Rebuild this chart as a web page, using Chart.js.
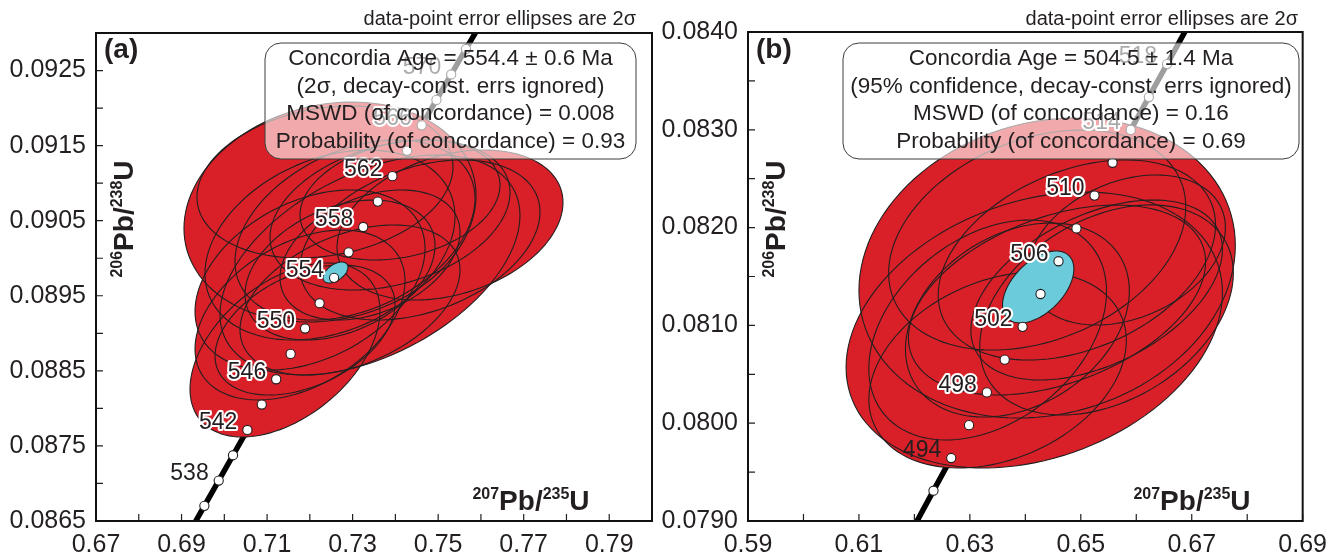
<!DOCTYPE html>
<html>
<head>
<meta charset="utf-8">
<script src="https://cdn.jsdelivr.net/npm/chart.js@4.4.1/dist/chart.umd.min.js"></script>
<style>
  html, body { margin: 0; padding: 0; background: #fff; }
  #wrap { position: relative; width: 1336px; height: 558px; overflow: hidden; }
  canvas { position: absolute; top: 0; }
  #chartA { left: 0; }
  #chartB { left: 640px; }
</style>
</head>
<body>
<div id="wrap">
  <canvas id="chartA" width="668" height="558"></canvas>
  <canvas id="chartB" width="696" height="558"></canvas>
</div>
<script>
// ---------- panel (a) data ----------
const concAgeA = [534, 536, 538, 540, 542, 544, 546, 548, 550, 552, 554, 556, 558, 560, 562, 564, 566, 568, 570, 572, 574];
const concXA = [0.69200, 0.69534, 0.69869, 0.70204, 0.70540, 0.70876, 0.71213, 0.71551, 0.71889, 0.72228, 0.72567,
                0.72907, 0.73248, 0.73589, 0.73931, 0.74273, 0.74616, 0.74960, 0.75305, 0.75650, 0.75998];
const concYA = [0.086365, 0.086702, 0.087039, 0.087376, 0.087713, 0.088051, 0.088388, 0.088726, 0.089064, 0.089401, 0.089739,
                0.090078, 0.090416, 0.090754, 0.091093, 0.091431, 0.091770, 0.092109, 0.092448, 0.092787, 0.093126];
const labelAgesA = [538, 542, 546, 550, 554, 558, 562, 566, 570];

// error ellipses: centre, 2-sigma half extents, correlation
const ellXA   = [0.72471, 0.75277, 0.73406, 0.71419, 0.71770, 0.72004, 0.72471, 0.73056,
                 0.73874, 0.74575, 0.72939, 0.72705, 0.73406, 0.74108, 0.72354, 0.71887];
const ellYA   = [0.090616, 0.090443, 0.089910, 0.088778, 0.089244, 0.089710, 0.090176, 0.090376,
                 0.090576, 0.090243, 0.089444, 0.089843, 0.090043, 0.090776, 0.091016, 0.089044];
const ellAXA  = [0.03414, 0.02642, 0.03507, 0.02221, 0.02455, 0.02689, 0.02923, 0.02806,
                 0.02806, 0.02806, 0.02572, 0.02221, 0.02104, 0.02338, 0.02993, 0.02104];
const ellBYA  = [0.001465, 0.000999, 0.001465, 0.001159, 0.001132, 0.001199, 0.001265, 0.001199,
                 0.000999, 0.001066, 0.000999, 0.000932, 0.000866, 0.000799, 0.001012, 0.000866];
const ellRhoA = [0.15, 0.30, 0.45, 0.45, 0.40, 0.35, 0.30, 0.35, 0.30, 0.35, 0.40, 0.35, 0.35, 0.25, 0.20, 0.40];
const ageEllA = [0.72600, 0.089810, 0.00292, 0.000140, 0.50];

const xLabelsA = ['0.67', '0.69', '0.71', '0.73', '0.75', '0.77', '0.79'];
const xMinorA = [0.68, 0.70, 0.72, 0.74, 0.76, 0.78];
const yLabelsA = ['0.0865', '0.0875', '0.0885', '0.0895', '0.0905', '0.0915', '0.0925'];
const yMinorA = [0.0870, 0.0880, 0.0890, 0.0900, 0.0910, 0.0920];
const boxLinesA = ['Concordia Age = 554.4 ± 0.6 Ma', '(2σ, decay-const. errs ignored)',
                   'MSWD (of concordance) = 0.008', 'Probability (of concordance) = 0.93'];

// ---------- panel (b) data ----------
const concAgeB = [490, 492, 494, 496, 498, 500, 502, 504, 506, 508, 510, 512, 514, 516, 518, 520];
const concXB = [0.62024, 0.62344, 0.62664, 0.62985, 0.63306, 0.63628, 0.63951, 0.64274,
                0.64598, 0.64922, 0.65247, 0.65573, 0.65900, 0.66227, 0.66555, 0.66883];
const concYB = [0.078975, 0.079310, 0.079644, 0.079980, 0.080315, 0.080650, 0.080985, 0.081321,
                0.081656, 0.081992, 0.082327, 0.082663, 0.082999, 0.083335, 0.083672, 0.084008];
const labelAgesB = [494, 498, 502, 506, 510, 514, 518];

const ellXB   = [0.64393, 0.64161, 0.65464, 0.63500, 0.65286, 0.63857, 0.63321, 0.64214, 0.64929, 0.64571, 0.65821];
const ellYB   = [0.081587, 0.080953, 0.081158, 0.080544, 0.081362, 0.081055, 0.080953, 0.081873, 0.081669, 0.081260, 0.081771];
const ellAXB  = [0.03393, 0.03393, 0.02286, 0.02321, 0.02268, 0.02018, 0.02143, 0.02679, 0.02500, 0.02679, 0.01786];
const ellBYB  = [0.001534, 0.001411, 0.001074, 0.001002, 0.000920, 0.000992, 0.001125, 0.001125, 0.001023, 0.000971, 0.000767];
const ellRhoB = [0.15, 0.27, 0.35, 0.30, 0.45, 0.30, 0.35, 0.30, 0.35, 0.40, 0.30];
const ageEllB = [0.64232, 0.081393, 0.00643, 0.000368, 0.50];

const xLabelsB = ['0.59', '0.61', '0.63', '0.65', '0.67', '0.69'];
const xMinorB = [0.60, 0.62, 0.64, 0.66, 0.68];
const yLabelsB = ['0.0790', '0.0800', '0.0810', '0.0820', '0.0830', '0.0840'];
const yMinorB = [0.0795, 0.0805, 0.0815, 0.0825, 0.0835];
const boxLinesB = ['Concordia Age = 504.5 ± 1.4 Ma', '(95% confidence, decay-const. errs ignored)',
                   'MSWD (of concordance) = 0.16', 'Probability (of concordance) = 0.69'];

const NOTE = 'data-point error ellipses are 2σ';

// ---------- drawing ----------
const FONT = '"Liberation Sans", Arial, sans-serif';
const RED = '#d91f27';
const CYAN = '#6bcbdb';
const INK = '#231f20';
Chart.defaults.font.family = FONT;
Chart.defaults.color = INK;

function ellipsePath(ctx, xs, ys, e) {
  const k = Math.sqrt(1 - e[4] * e[4]);
  ctx.beginPath();
  for (let i = 0; i <= 120; i++) {
    const t = i / 120 * Math.PI * 2;
    const px = xs.getPixelForValue(e[0] + e[2] * Math.cos(t));
    const py = ys.getPixelForValue(e[1] + e[3] * (e[4] * Math.cos(t) + k * Math.sin(t)));
    if (i === 0) ctx.moveTo(px, py); else ctx.lineTo(px, py);
  }
  ctx.closePath();
}

// text with superscript parts, centred on x
function richText(ctx, parts, x, y, big, small) {
  const fBig = 'bold ' + big + 'px ' + FONT, fSmall = 'bold ' + small + 'px ' + FONT;
  let w = 0;
  parts.forEach(p => { ctx.font = p.sup ? fSmall : fBig; w += ctx.measureText(p.t).width; });
  let cx = x - w / 2;
  ctx.textAlign = 'left';
  ctx.textBaseline = 'alphabetic';
  parts.forEach(p => {
    ctx.font = p.sup ? fSmall : fBig;
    ctx.fillText(p.t, cx, p.sup ? y - big * 0.38 : y);
    cx += ctx.measureText(p.t).width;
  });
}

function panelPlugin(p) {
  return {
    id: 'concordiaPanel',
    afterDatasetDraw(chart, args) {
      if (args.index !== 1) return; // right after the concordia curve
      const { ctx, chartArea: a, scales: { x, y } } = chart;
      const ells = p.ellX.map((v, i) => [v, p.ellY[i], p.ellAX[i], p.ellBY[i], p.ellRho[i]]);
      ctx.save();
      ctx.beginPath(); ctx.rect(a.left, a.top, a.width, a.height); ctx.clip();
      ctx.fillStyle = RED;
      ells.forEach(e => { ellipsePath(ctx, x, y, e); ctx.fill(); });
      ctx.strokeStyle = INK; ctx.lineWidth = 1.1;
      ells.forEach(e => { ellipsePath(ctx, x, y, e); ctx.stroke(); });
      ellipsePath(ctx, x, y, p.ageEll);
      ctx.fillStyle = CYAN; ctx.fill(); ctx.stroke();
      ctx.restore();
    },
    afterDatasetsDraw(chart) {
      const { ctx, scales: { x, y } } = chart;
      ctx.save();
      // age labels along concordia
      ctx.font = '23px ' + FONT;
      ctx.textAlign = 'right';
      ctx.textBaseline = 'middle';
      ctx.lineJoin = 'round';
      p.labelAges.forEach((age, k) => {
        const i = p.concAge.indexOf(age);
        const px = x.getPixelForValue(p.concX[i]) - 10;
        const py = y.getPixelForValue(p.concY[i]) - 7;
        if (k > 0) {
          ctx.strokeStyle = '#fff'; ctx.lineWidth = 4;
          ctx.strokeText(String(age), px, py);
        }
        ctx.fillStyle = INK;
        ctx.fillText(String(age), px, py);
      });
      // results box (translucent)
      const b = p.box;
      ctx.beginPath();
      ctx.roundRect(b.x, b.y, b.w, b.h, 16);
      ctx.fillStyle = 'rgba(255,255,255,0.62)';
      ctx.fill();
      ctx.strokeStyle = '#3c3c3c'; ctx.lineWidth = 1;
      ctx.stroke();
      ctx.fillStyle = INK;
      ctx.font = b.font + 'px ' + FONT;
      ctx.textAlign = 'center';
      ctx.textBaseline = 'middle';
      p.boxLines.forEach((t, i) => ctx.fillText(t, b.x + b.w / 2, b.y + 16 + i * 27.5));
      ctx.restore();
    },
    afterDraw(chart) {
      const { ctx, chartArea: a, scales: { x, y } } = chart;
      ctx.save();
      // inward ticks
      ctx.strokeStyle = INK; ctx.lineWidth = 1.2;
      ctx.beginPath();
      x.ticks.forEach(t => { const px = x.getPixelForValue(t.value); ctx.moveTo(px, a.bottom); ctx.lineTo(px, a.bottom - 7); });
      y.ticks.forEach(t => { const py = y.getPixelForValue(t.value); ctx.moveTo(a.left, py); ctx.lineTo(a.left + 7, py); });
      ctx.stroke();
      // frame
      ctx.lineWidth = 2;
      ctx.strokeStyle = '#111';
      ctx.strokeRect(a.left, a.top, a.width, a.height);
      // note above frame
      ctx.fillStyle = INK;
      ctx.font = '20px ' + FONT;
      ctx.textAlign = 'right';
      ctx.textBaseline = 'alphabetic';
      ctx.fillText(NOTE, p.noteX, 25);
      // panel letter
      ctx.font = 'bold 28px ' + FONT;
      ctx.textAlign = 'left';
      ctx.fillText(p.letter, a.left + 8, 58);
      // axis titles
      richText(ctx, [{ t: '207', sup: true }, { t: 'Pb/' }, { t: '235', sup: true }, { t: 'U' }],
               p.xTitleX, a.bottom - 11, 28, 16);
      ctx.translate(a.left + 37, 219);
      ctx.rotate(-Math.PI / 2);
      richText(ctx, [{ t: '206', sup: true }, { t: 'Pb/' }, { t: '238', sup: true }, { t: 'U' }], 0, 0, 28, 16);
      ctx.restore();
    }
  };
}

function tickAxis(min, max, labels, minors, fit) {
  const majors = labels.map(Number);
  return {
    type: 'linear', min, max,
    grid: { display: false, drawTicks: false },
    border: { display: false },
    afterBuildTicks: s => { s.ticks = majors.concat(minors).sort((m, n) => m - n).map(v => ({ value: v })); },
    afterFit: fit,
    ticks: {
      autoSkip: false, maxRotation: 0, minRotation: 0,
      font: { size: 25 }, color: INK,
      callback: v => { const i = majors.findIndex(m => Math.abs(m - v) < 1e-9); return i < 0 ? '' : labels[i]; }
    }
  };
}

function makePanel(id, p) {
  const pts = p.concX.map((v, i) => ({ x: v, y: p.concY[i] }));
  const dots = pts.filter(q => q.y >= p.yMin && q.y <= p.yMax);
  const xAxis = tickAxis(p.xMin, p.xMax, p.xLabels, p.xMinor, s => { s.height = 37; });
  xAxis.ticks.padding = 9;
  const yAxis = tickAxis(p.yMin, p.yMax, p.yLabels, p.yMinor, s => { s.width = p.yAxisW; });
  yAxis.ticks.padding = 10;
  return new Chart(document.getElementById(id), {
    type: 'scatter',
    data: {
      datasets: [
        { data: dots, showLine: false, order: 1, pointRadius: 4.6, pointBackgroundColor: '#fff',
          pointBorderColor: INK, pointBorderWidth: 1.1 },
        { data: pts, showLine: true, order: 2, borderColor: '#000', borderWidth: 5.5, pointRadius: 0,
          borderCapStyle: 'butt', tension: 0 }
      ]
    },
    options: {
      responsive: false, animation: false, events: [],
      layout: { padding: p.padding },
      plugins: { legend: { display: false }, tooltip: { enabled: false } },
      scales: { x: xAxis, y: yAxis }
    },
    plugins: [panelPlugin(p)]
  });
}

makePanel('chartA', {
  concAge: concAgeA, concX: concXA, concY: concYA, labelAges: labelAgesA,
  ellX: ellXA, ellY: ellYA, ellAX: ellAXA, ellBY: ellBYA, ellRho: ellRhoA, ageEll: ageEllA,
  xMin: 0.67, xMax: 0.80, yMin: 0.0865, yMax: 0.0930,
  xLabels: xLabelsA, xMinor: xMinorA, yLabels: yLabelsA, yMinor: yMinorA,
  boxLines: boxLinesA, box: { x: 265, y: 43, w: 371, h: 116, font: 22.5 },
  noteX: 636, letter: '(a)', xTitleX: 531, yAxisW: 96,
  padding: { top: 33, right: 16, left: 0, bottom: 0 }
});

makePanel('chartB', {
  concAge: concAgeB, concX: concXB, concY: concYB, labelAges: labelAgesB,
  ellX: ellXB, ellY: ellYB, ellAX: ellAXB, ellBY: ellBYB, ellRho: ellRhoB, ageEll: ageEllB,
  xMin: 0.59, xMax: 0.69, yMin: 0.0790, yMax: 0.0840,
  xLabels: xLabelsB, xMinor: xMinorB, yLabels: yLabelsB, yMinor: yMinorB,
  boxLines: boxLinesB, box: { x: 203, y: 43, w: 456, h: 116, font: 22.5 },
  noteX: 658, letter: '(b)', xTitleX: 552, yAxisW: 108,
  padding: { top: 32, right: 28, left: 0, bottom: 0 }
});
</script>
</body>
</html>
